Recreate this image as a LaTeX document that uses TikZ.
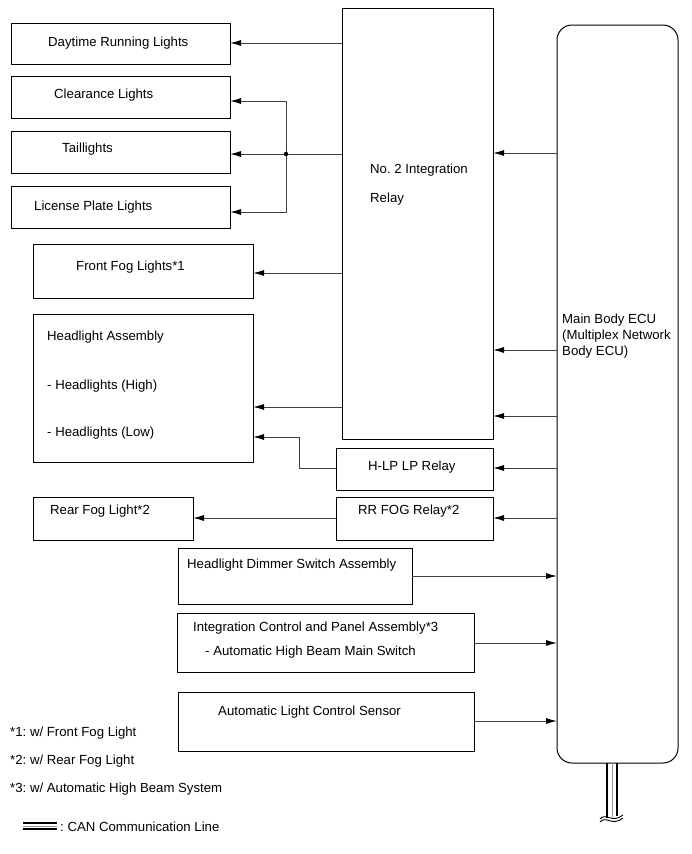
\documentclass[tikz,border=0pt]{standalone}
\usepackage{fontspec}
\setmainfont{Liberation Sans}
\usetikzlibrary{arrows.meta}
\frenchspacing

\begin{document}
\begin{tikzpicture}[
    x=1pt, y=-1pt,
    every node/.style={
        font=\fontsize{13.2}{15.5}\selectfont
    },
    blk/.style={
        draw=black,
        line width=1pt,
        inner sep=0pt,
        outer sep=0pt,
        anchor=north west
    },
    txt/.style={
        anchor=base west,
        inner sep=0pt,
        align=left
    },
    conn/.style={
        draw=black!75,
        line width=1pt,
        -{Latex[length=11pt,width=6pt,color=black]}
    },
    wire/.style={
        draw=black!75,
        line width=1pt
    },
    canline/.style={
        draw=black,
        line width=2.6pt
    },
    canmid/.style={
        draw=black!40,
        line width=0.8pt
    }
]

\useasboundingbox (0,0) rectangle (691,854);

% ============================================================
% Loads (left column)
% ============================================================

\node[blk, minimum width=219, minimum height=41] (drl) at (11,23) {};
\node[txt] (drltxt) at (48,46) {Daytime Running Lights};

\node[blk, minimum width=219, minimum height=42] (clr) at (11,76) {};
\node[txt] (clrtxt) at (54,98) {Clearance Lights};

\node[blk, minimum width=219, minimum height=42] (tail) at (11,131) {};
\node[txt] (tailtxt) at (62,152) {Taillights};

\node[blk, minimum width=219, minimum height=42] (lic) at (11,186) {};
\node[txt] (lictxt) at (34,210) {License Plate Lights};

\node[blk, minimum width=220, minimum height=54] (ffog) at (33,244) {};
\node[txt] (ffogtxt) at (76,270) {Front Fog Lights*1};

\node[blk, minimum width=220, minimum height=148] (head) at (33,314) {};
\node[txt] (headtxt) at (47,340) {Headlight Assembly};
\node[txt] (hightxt) at (47,389) {- Headlights (High)};
\node[txt] (lowtxt) at (47,436) {- Headlights (Low)};

\node[blk, minimum width=160, minimum height=43] (rfog) at (33,497) {};
\node[txt] (rfogtxt) at (50,514) {Rear Fog Light*2};

% ============================================================
% Relays
% ============================================================

\node[blk, minimum width=151, minimum height=431] (relay) at (342,8) {};
\node[txt] (relaytxt) at (370,173) {No. 2 Integration};
\node[txt] (relaytxtb) at (370,202) {Relay};

\node[blk, minimum width=157, minimum height=42] (hlp) at (336,448) {};
\node[txt] (hlptxt) at (368,470) {H-LP LP Relay};

\node[blk, minimum width=157, minimum height=43] (rrfog) at (336,497) {};
\node[txt] (rrfogtxt) at (358,514) {RR FOG Relay*2};

% ============================================================
% Switches and sensor
% ============================================================

\node[blk, minimum width=234, minimum height=56] (dim) at (178,548) {};
\node[txt] (dimtxt) at (187,568) {Headlight Dimmer Switch Assembly};

\node[blk, minimum width=297, minimum height=59] (icp) at (177,613) {};
\node[txt] (icptxt) at (193,631) {Integration Control and Panel Assembly*3};
\node[txt] (icptxtb) at (205,655) {- Automatic High Beam Main Switch};

\node[blk, minimum width=296, minimum height=59] (sens) at (178,692) {};
\node[txt] (senstxt) at (218,715) {Automatic Light Control Sensor};

% ============================================================
% Main Body ECU
% ============================================================

\node[blk, rounded corners=15pt, minimum width=121, minimum height=738] (ecu) at (557,25) {};
\node[txt] (ecutxt) at (562,323) {Main Body ECU};
\node[txt] (ecutxtb) at (562,339) {(Multiplex Network};
\node[txt] (ecutxtc) at (562,355) {Body ECU)};

% CAN lines out of the ECU
\coordinate (canL) at (607,763);
\coordinate (canR) at (617,763);
\coordinate (canM) at (612,763);
\draw[canline] (canL) -- ++(0,55);
\draw[canline] (canR) -- ++(0,53);
\draw[canmid] (canM) -- ++(0,54);
\draw[line width=0.9pt] (600,819) .. controls (606,812) and (612,824) .. (623,815);
\draw[line width=0.9pt] (600,822) .. controls (606,815) and (612,827) .. (623,818);

% ============================================================
% Wire rows
% ============================================================

\coordinate (rowDrl) at (0,43);
\coordinate (rowClr) at (0,101);
\coordinate (rowTail) at (0,154);
\coordinate (rowLic) at (0,212);
\coordinate (rowFfog) at (0,273);
\coordinate (rowHigh) at (0,407);
\coordinate (rowLow) at (0,437);
\coordinate (rowHlp) at (0,468);
\coordinate (rowRr) at (0,518);
\coordinate (rowIn1) at (0,153);
\coordinate (rowIn2) at (0,350);
\coordinate (rowIn3) at (0,416);
\coordinate (rowDim) at (0,576);
\coordinate (rowIcp) at (0,643);
\coordinate (rowSens) at (0,721);

% Relay to lights
\draw[conn] (relay.west |- rowDrl) -- (drl.east |- rowDrl);

\coordinate (tailjunction) at (286,154);
\draw[wire] (relay.west |- rowTail) -- (tailjunction);
\draw[conn] (tailjunction) -- (tail.east |- rowTail);
\draw[conn] (tailjunction) |- (clr.east |- rowClr);
\draw[conn] (tailjunction) |- (lic.east |- rowLic);
\fill (tailjunction) circle (2.2pt);

\draw[conn] (relay.west |- rowFfog) -- (ffog.east |- rowFfog);
\draw[conn] (relay.west |- rowHigh) -- (head.east |- rowHigh);
\draw[conn] (hlp.west |- rowHlp) -| (299,437) -- (head.east |- rowLow);
\draw[conn] (rrfog.west |- rowRr) -- (rfog.east |- rowRr);

% ECU to relays
\draw[conn] (ecu.west |- rowIn1) -- (relay.east |- rowIn1);
\draw[conn] (ecu.west |- rowIn2) -- (relay.east |- rowIn2);
\draw[conn] (ecu.west |- rowIn3) -- (relay.east |- rowIn3);
\draw[conn] (ecu.west |- rowHlp) -- (hlp.east |- rowHlp);
\draw[conn] (ecu.west |- rowRr) -- (rrfog.east |- rowRr);

% Inputs to ECU
\draw[conn] (dim.east |- rowDim) -- (ecu.west |- rowDim);
\draw[conn] (icp.east |- rowIcp) -- (ecu.west |- rowIcp);
\draw[conn] (sens.east |- rowSens) -- (ecu.west |- rowSens);

% ============================================================
% Notes and legend
% ============================================================

\node[txt] (note1) at (10,736) {*1: w/ Front Fog Light};
\node[txt] (note2) at (10,764) {*2: w/ Rear Fog Light};
\node[txt] (note3) at (10,792) {*3: w/ Automatic High Beam System};

\coordinate (legA) at (23,823);
\coordinate (legB) at (23,826);
\coordinate (legC) at (23,829);
\draw[line width=2pt] (legA) -- ++(34,0);
\draw[canmid] (legB) -- ++(34,0);
\draw[line width=2pt] (legC) -- ++(34,0);
\node[txt] (legtxt) at (60,831) {: CAN Communication Line};

\end{tikzpicture}
\end{document}
